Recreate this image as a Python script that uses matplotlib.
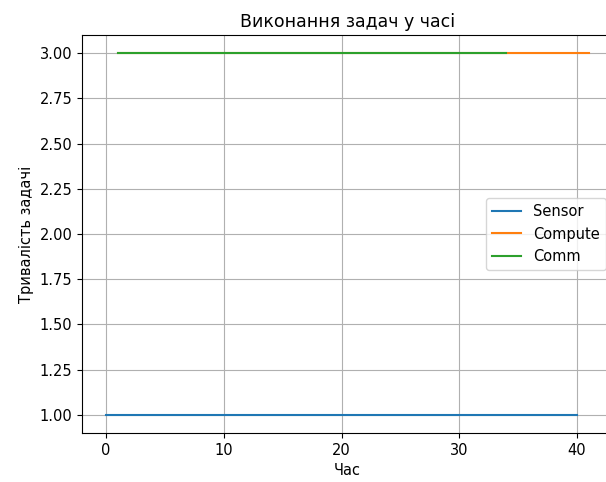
import matplotlib
matplotlib.use("Agg")
import matplotlib.pyplot as plt

# Data
sensor_x = [0, 40]
sensor_y = [1, 1]
compute_x = [1, 41]
compute_y = [3, 3]
comm_x = [1, 34]
comm_y = [3, 3]

title = "Виконання задач у часі"
xlabel = "Час"
ylabel = "Тривалість задачі"
labels = ["Sensor", "Compute", "Comm"]

plt.rcParams['font.family'] = ['DejaVu Sans']
plt.rcParams['font.size'] = 10.5

fig = plt.figure(figsize=(6.06, 4.82), dpi=100)
ax = fig.add_axes([82/606, 49/482, (613-82)/606, (433-35)/482])

ax.plot(sensor_x, sensor_y, color='#1f77b4', label=labels[0])
ax.plot(compute_x, compute_y, color='#ff7f0e', label=labels[1])
ax.plot(comm_x, comm_y, color='#2ca02c', label=labels[2])

ax.set_title(title, fontsize=12.5)
ax.set_xlabel(xlabel)
ax.set_ylabel(ylabel)
ax.set_xticks([0, 10, 20, 30, 40])
ax.set_yticks([1.0, 1.25, 1.5, 1.75, 2.0, 2.25, 2.5, 2.75, 3.0])
ax.grid(True)
ax.legend(loc='center right')

fig.savefig("out.png", dpi=100)
